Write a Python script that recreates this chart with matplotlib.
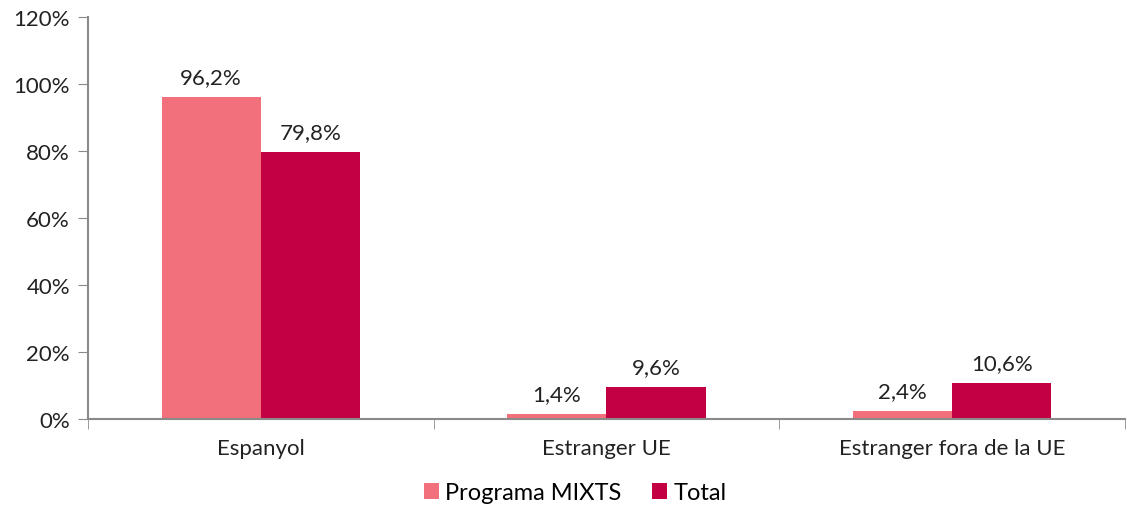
import numpy as np
import matplotlib.pyplot as plt

categories = ["Espanyol", "Estranger UE", "Estranger fora de la UE"]
mixts = [96.2, 1.4, 2.4]
total = [79.8, 9.6, 10.6]
mixts_labels = ["96,2%", "1,4%", "2,4%"]
total_labels = ["79,8%", "9,6%", "10,6%"]
yticks = [0, 20, 40, 60, 80, 100, 120]

plt.rcParams['font.family'] = ['Lato', 'DejaVu Sans']

fig = plt.figure(figsize=(11.32, 5.10), dpi=100)
ax = fig.add_axes([0.0777, 0.1765, 0.9161, 0.7882])

x = np.arange(len(categories))
w = 0.287
b1 = ax.bar(x - w / 2, mixts, w, color="#F2707B", label="Programa MIXTS")
b2 = ax.bar(x + w / 2, total, w, color="#C40044", label="Total")

for rect, lab in zip(b1, mixts_labels):
    ax.text(rect.get_x() + rect.get_width() / 2, rect.get_height() + 3, lab,
            ha="center", va="bottom", fontsize=16, color="#222222")
for rect, lab in zip(b2, total_labels):
    ax.text(rect.get_x() + rect.get_width() / 2, rect.get_height() + 3, lab,
            ha="center", va="bottom", fontsize=16, color="#222222")

ax.set_xlim(-0.5, 2.5)
ax.set_ylim(0, 120)
ax.set_yticks(yticks)
ax.set_yticklabels([f"{v}%" for v in yticks], fontsize=16, color="#222222")
ax.set_xticks(x)
ax.set_xticklabels(categories, fontsize=16, color="#222222")
ax.set_xticks([-0.5, 0.5, 1.5, 2.5], minor=True)
ax.tick_params(axis="x", which="major", length=0, pad=14)
ax.tick_params(axis="x", which="minor", length=7, color="#8a8a8a", direction="out")
ax.tick_params(axis="y", length=7, color="#8a8a8a", pad=6)

for s in ["top", "right"]:
    ax.spines[s].set_visible(False)
for s in ["left", "bottom"]:
    ax.spines[s].set_color("#8a8a8a")
    ax.spines[s].set_linewidth(1.5)

fig.legend(loc="lower center", bbox_to_anchor=(0.508, -0.03), ncol=2, frameon=False,
           fontsize=17, handlelength=0.65, handleheight=0.65, handletextpad=0.25,
           columnspacing=1.3)

fig.savefig("out.png", dpi=100)
